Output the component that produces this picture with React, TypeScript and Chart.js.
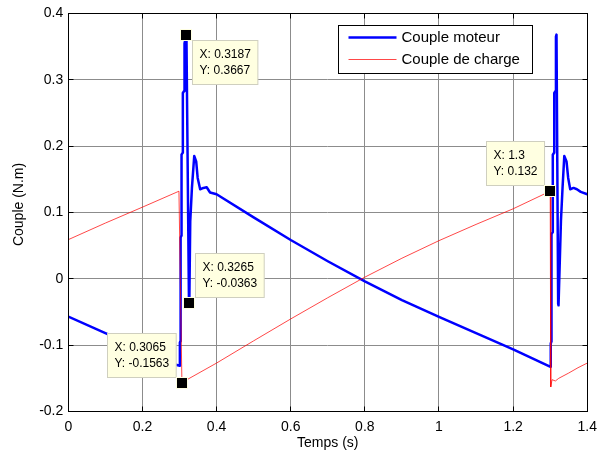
import React, { useEffect, useRef } from 'react';
import { Chart, registerables } from 'chart.js';

Chart.register(...registerables);

// ---- Data ----
const motorT = [
  0, 0.1, 0.2, 0.293, 0.3005, 0.301, 0.3025, 0.303, 0.305, 0.3055, 0.3085, 0.309, 0.3125, 0.3135, 0.3187,
  0.3255, 0.3265, 0.329, 0.3335, 0.3397, 0.345, 0.349, 0.3557, 0.3645, 0.3733, 0.3824, 0.4, 0.5, 0.6, 0.7,
  0.8, 0.9, 1.0, 1.1, 1.2, 1.2995, 1.3015, 1.303, 1.3035, 1.3065, 1.307, 1.3105, 1.311, 1.3145, 1.3155,
  1.317, 1.3215, 1.3225, 1.329, 1.3333, 1.338, 1.344, 1.3485, 1.354, 1.363, 1.372, 1.3824, 1.4,
];
const motorY = [
  -0.057, -0.082, -0.107, -0.130, -0.131, -0.096, -0.094, 0.062, 0.065, 0.187, 0.19, 0.28, 0.283, 0.355, 0.3667,
  -0.035, -0.0363, 0.087, 0.137, 0.185, 0.177, 0.152, 0.135, 0.137, 0.138, 0.13, 0.1275, 0.0925, 0.0585, 0.0265,
  -0.004, -0.032, -0.0575, -0.082, -0.1065, -0.1325, -0.0975, -0.095, 0.0675, 0.07, 0.187, 0.19, 0.28, 0.283, 0.365,
  0.368, -0.038, -0.040, 0.0874, 0.137, 0.185, 0.177, 0.152, 0.135, 0.137, 0.135, 0.131, 0.1275,
];
const loadT = [
  0, 0.1, 0.2, 0.2985, 0.3065, 0.4, 0.5, 0.6, 0.7, 0.8, 0.9, 1.0, 1.1, 1.2, 1.3, 1.3015, 1.305, 1.314, 1.323,
  1.35, 1.375, 1.4,
];
const loadY = [
  0.059, 0.084, 0.108, 0.132, -0.1563, -0.127, -0.0935, -0.0605, -0.0285, 0.0025, 0.031, 0.0575, 0.082, 0.1055, 0.132,
  -0.163, -0.152, -0.154, -0.150, -0.142, -0.134, -0.127,
];
const seriesNames = ['Couple moteur', 'Couple de charge'];

const xTicks = [0, 0.2, 0.4, 0.6, 0.8, 1, 1.2, 1.4];
const xTickLabels = ['0', '0.2', '0.4', '0.6', '0.8', '1', '1.2', '1.4'];
const yTicks = [-0.2, -0.1, 0, 0.1, 0.2, 0.3, 0.4];
const yTickLabels = ['-0.2', '-0.1', '0', '0.1', '0.2', '0.3', '0.4'];

const xTitle = 'Temps (s)';
const yTitle = 'Couple (N.m)';

// data tips
const tipX = [0.3187, 0.3265, 0.3065, 1.3];
const tipY = [0.3667, -0.0363, -0.1563, 0.132];
const tipXLabels = ['X: 0.3187', 'X: 0.3265', 'X: 0.3065', 'X: 1.3'];
const tipYLabels = ['Y: 0.3667', 'Y: -0.0363', 'Y: -0.1563', 'Y: 0.132'];
const tipPlacement = ['br', 'tr', 'tl', 'tl'];

const FONT = '"Liberation Sans", Arial, Helvetica, sans-serif';
const BLUE = '#0000ff';
const RED = 'rgba(255,0,0,0.72)';

function align(p: number) {
  return Math.round(p - 0.5) + 0.5;
}

const matlabPlugin = {
  id: 'matlabDecor',
  afterDatasetsDraw(chart: any) {
    const { ctx, chartArea: a, scales } = chart;
    const xs = scales.x;
    const ys = scales.y;
    ctx.save();

    // frame
    const L = align(a.left), R = align(a.right), T = align(a.top), B = align(a.bottom);
    ctx.strokeStyle = '#000';
    ctx.lineWidth = 1;
    ctx.strokeRect(L, T, R - L, B - T);

    // inner ticks
    const tl = 5;
    ctx.beginPath();
    xTicks.forEach((v) => {
      const px = align(xs.getPixelForValue(v));
      ctx.moveTo(px, B); ctx.lineTo(px, B - tl);
      ctx.moveTo(px, T); ctx.lineTo(px, T + tl);
    });
    yTicks.forEach((v) => {
      const py = align(ys.getPixelForValue(v));
      ctx.moveTo(L, py); ctx.lineTo(L + tl, py);
      ctx.moveTo(R, py); ctx.lineTo(R - tl, py);
    });
    ctx.stroke();

    // data tips
    ctx.font = `12px ${FONT}`;
    tipX.forEach((xv, i) => {
      const mx = xs.getPixelForValue(xv);
      const my = ys.getPixelForValue(tipY[i]);
      const w = Math.max(ctx.measureText(tipXLabels[i]).width, ctx.measureText(tipYLabels[i]).width) + 14;
      const h = 44;
      const p = tipPlacement[i];
      let left = p.includes('r') ? mx + 6 : mx - 6 - w;
      let top = p.includes('b') ? my + 5 : my - 6 - h;
      left = Math.round(left) + 0.5;
      top = Math.round(top) + 0.5;
      ctx.fillStyle = '#ffffe1';
      ctx.fillRect(left, top, w, h);
      ctx.strokeStyle = '#cfcfbf';
      ctx.strokeRect(left, top, w, h);
      ctx.fillStyle = '#000';
      ctx.textAlign = 'left';
      ctx.textBaseline = 'middle';
      ctx.fillText(tipXLabels[i], left + 7, top + 14);
      ctx.fillText(tipYLabels[i], left + 7, top + 30);
      // marker
      ctx.fillStyle = '#ffffe1';
      ctx.fillRect(Math.round(mx) - 6, Math.round(my) - 6, 12, 12);
      ctx.fillStyle = '#000';
      ctx.fillRect(Math.round(mx) - 5, Math.round(my) - 5, 10, 10);
    });

    // legend
    const lw = 194, lh = 48;
    const lx = Math.round(a.right - 249) + 0.5;
    const ly = Math.round(a.top + 12) + 0.5;
    ctx.fillStyle = '#fff';
    ctx.fillRect(lx, ly, lw, lh);
    ctx.strokeStyle = '#000';
    ctx.lineWidth = 1;
    ctx.strokeRect(lx, ly, lw, lh);
    const colors = [BLUE, RED];
    const widths = [2.5, 1];
    ctx.font = `15px ${FONT}`;
    ctx.textAlign = 'left';
    ctx.textBaseline = 'middle';
    seriesNames.forEach((name, i) => {
      const cy = ly + 12 + i * 22;
      ctx.strokeStyle = colors[i];
      ctx.lineWidth = widths[i];
      ctx.beginPath();
      ctx.moveTo(lx + 10, cy);
      ctx.lineTo(lx + 58, cy);
      ctx.stroke();
      ctx.fillStyle = '#000';
      ctx.fillText(name, lx + 63, cy);
    });

    // axis titles
    ctx.fillStyle = '#000';
    ctx.font = `14px ${FONT}`;
    ctx.textAlign = 'center';
    ctx.textBaseline = 'middle';
    ctx.fillText(xTitle, (a.left + a.right) / 2, 443);
    ctx.save();
    ctx.translate(19, (a.top + a.bottom) / 2 - 8);
    ctx.rotate(-Math.PI / 2);
    ctx.fillText(yTitle, 0, 0);
    ctx.restore();

    ctx.restore();
  },
};

export default function App() {
  const ref = useRef<HTMLCanvasElement | null>(null);

  useEffect(() => {
    document.body.style.margin = '0';
    const canvas = ref.current;
    if (!canvas) return;
    const chart = new Chart(canvas, {
      type: 'line',
      data: {
        datasets: [
          {
            label: seriesNames[0],
            data: motorT.map((t, i) => ({ x: t, y: motorY[i] })),
            borderColor: BLUE,
            borderWidth: 2.5,
            borderJoinStyle: 'round',
            borderCapStyle: 'round',
            pointRadius: 0,
            fill: false,
            tension: 0,
            order: 1,
          },
          {
            label: seriesNames[1],
            data: loadT.map((t, i) => ({ x: t, y: loadY[i] })),
            borderColor: RED,
            borderWidth: 1,
            borderJoinStyle: 'round',
            pointRadius: 0,
            fill: false,
            tension: 0,
            order: 0,
          },
        ],
      },
      options: {
        animation: false,
        responsive: false,
        devicePixelRatio: 1,
        layout: { padding: { left: 0, right: 10.7, top: 12, bottom: 0 } },
        plugins: { legend: { display: false }, tooltip: { enabled: false }, title: { display: false } },
        scales: {
          x: {
            type: 'linear',
            min: 0,
            max: 1.4,
            afterBuildTicks: (s: any) => { s.ticks = xTicks.map((v) => ({ value: v })); },
            afterFit: (s: any) => { s.height = 45.5; },
            ticks: {
              callback: (v: any) => xTickLabels[xTicks.findIndex((t) => Math.abs(t - v) < 1e-6)] ?? '',
              color: '#000',
              font: { family: FONT, size: 14 },
              padding: 7,
              maxRotation: 0,
              autoSkip: false,
            },
            grid: { color: '#8c8c8c', lineWidth: 1, drawTicks: false },
            border: { display: false },
          },
          y: {
            type: 'linear',
            min: -0.2,
            max: 0.4,
            afterBuildTicks: (s: any) => { s.ticks = yTicks.map((v) => ({ value: v })); },
            afterFit: (s: any) => { s.width = 68.3; },
            ticks: {
              callback: (v: any) => yTickLabels[yTicks.findIndex((t) => Math.abs(t - v) < 1e-6)] ?? '',
              color: '#000',
              font: { family: FONT, size: 14 },
              padding: 5,
              autoSkip: false,
            },
            grid: { color: '#8c8c8c', lineWidth: 1, drawTicks: false },
            border: { display: false },
          },
        },
      },
      plugins: [matlabPlugin],
    } as any);
    return () => chart.destroy();
  }, []);

  return (
    <div style={{ width: 604, height: 457 }}>
      <canvas ref={ref} width={604} height={457} style={{ display: 'block' }} />
    </div>
  );
}
